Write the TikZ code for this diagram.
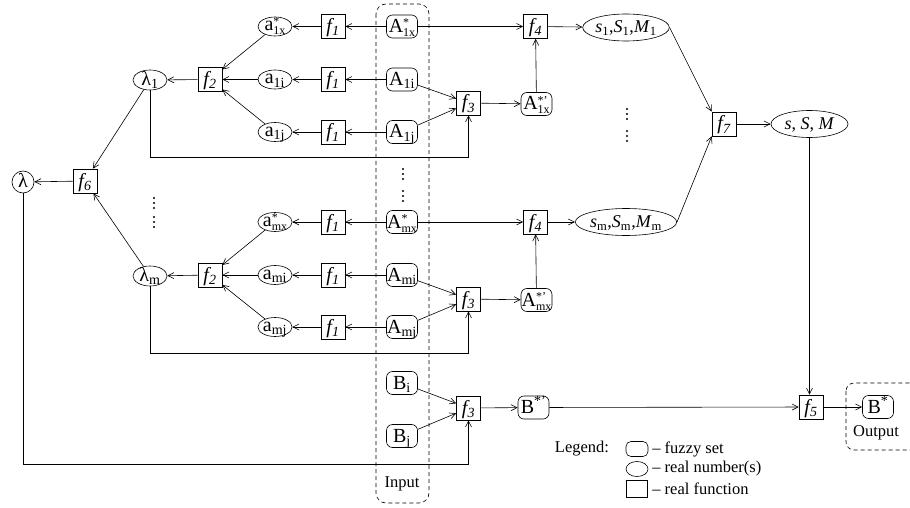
\documentclass[tikz,border=0pt]{standalone}
\usepackage{fontspec}
\setmainfont{Liberation Serif}
\usetikzlibrary{arrows.meta,shapes.geometric}
\newcommand\SupSub[2]{\rlap{\raisebox{5.5pt}{\fontsize{12}{12}\selectfont #1}}\raisebox{-4pt}{\fontsize{12}{12}\selectfont #2}}
\newcommand\fn[1]{\textit{f\kern0.3pt\textsubscript{#1}}}
\begin{document}
\begin{tikzpicture}[x=1pt,y=-1pt,
  every node/.style={font=\fontsize{16.5}{18}\selectfont, inner sep=0},
  bigtxt/.style={font=\fontsize{20}{22}\selectfont, text height=12pt, text depth=0pt},
  fbox/.style={draw, bigtxt, minimum size=24},
  fuz/.style={draw, bigtxt, rounded corners=6, minimum width=31, minimum height=23},
  num/.style={draw, bigtxt, text height=9pt, ellipse, minimum width=34, minimum height=19},
  lnum/.style={draw, bigtxt, text height=11pt, ellipse, minimum width=34, minimum height=20},
  big/.style={draw, ellipse, font=\fontsize{18}{20}\selectfont, text height=11pt, text depth=0pt, minimum width=77, minimum height=27},
  arr/.style={-{Straight Barb[length=6pt,width=6pt]}},
  line width=0.6pt]
\useasboundingbox (0,0) rectangle (910,508);
% input / output frames
\draw[dash pattern=on 4pt off 3pt, rounded corners=10] (376,4) rectangle (429,503);
\node (inp) at (402,484) {Input};
\draw[dash pattern=on 4pt off 3pt, rounded corners=8] (846,383) rectangle (918,450);
\node (outp) at (876,433) {Output};
% ---- block 1
\node[num] (a1x) at (275,26.5) {a\SupSub{*}{1x}};
\node[fbox] (f1x) at (333,26.5) {\fn{1}};
\node[fuz] (A1x) at (402,26.5) {A\SupSub{*}{1x}};
\node[fbox] (f4a) at (535.5,26.5) {\fn{4}};
\node[big] (s1) at (626,27.5) {\textit{s}\textsubscript{1},\textit{S}\textsubscript{1},\textit{M}\textsubscript{1}};
\node[lnum] (l1) at (150,80) {λ\textsubscript{1}};
\node[fbox] (f2a) at (210,79.5) {\fn{2}};
\node[num] (a1i) at (275,79.5) {a\textsubscript{1i}};
\node[fbox] (f1i) at (333,79.5) {\fn{1}};
\node[fuz] (A1i) at (402,79.5) {A\textsubscript{1i}};
\node[fbox] (f3a) at (468.5,103) {\fn{3}};
\node[fuz] (A1xp) at (536.5,104) {A\SupSub{*’}{1x}};
\node[num] (a1j) at (275,132) {a\textsubscript{1j}};
\node[fbox] (f1j) at (333,132) {\fn{1}};
\node[fuz] (A1j) at (402,132) {A\textsubscript{1j}};
% ---- block m
\node[num] (amx) at (275,222) {a\SupSub{*}{mx}};
\node[fbox] (f1mx) at (333,222) {\fn{1}};
\node[fuz] (Amx) at (402,222) {A\SupSub{*}{mx}};
\node[fbox] (f4b) at (535.5,222) {\fn{4}};
\node[big] (sm) at (626,222) {\textit{s}\textsubscript{m},\textit{S}\textsubscript{m},\textit{M}\textsubscript{m}};
\node[lnum] (lm) at (150,276) {λ\textsubscript{m}};
\node[fbox] (f2b) at (210,275) {\fn{2}};
\node[num] (ami) at (275,275) {a\textsubscript{mi}};
\node[fbox] (f1mi) at (333,275) {\fn{1}};
\node[fuz] (Ami) at (402,275) {A\textsubscript{mi}};
\node[fbox] (f3b) at (468.5,299) {\fn{3}};
\node[fuz] (Amxp) at (536.5,300) {A\SupSub{*’}{mx}};
\node[num] (amj) at (275,327) {a\textsubscript{mj}};
\node[fbox] (f1mj) at (333,327) {\fn{1}};
\node[fuz] (Amj) at (402,327) {A\textsubscript{mj}};
% ---- aggregation
\node[fbox] (f6) at (85,181) {\fn{6}};
\node[draw, bigtxt, text height=11pt, ellipse, minimum width=22, minimum height=22] (lam) at (23,182) {λ};
\node[fbox] (f7) at (724,124) {\fn{7}};
\node[big] (sSM) at (809.5,124) {\textit{s}, \textit{S}, \textit{M}};
% ---- B part
\node[fuz] (Bi) at (402,383) {B\textsubscript{i}};
\node[fuz] (Bj) at (402,436) {B\textsubscript{j}};
\node[fbox] (f3c) at (468.5,408) {\fn{3}};
\node[fuz] (Bsp) at (533.5,407.5) {B\textsuperscript{*’}};
\node[fbox] (f5) at (811,407) {\fn{5}};
\node[fuz] (Bs) at (878,407) {B\textsuperscript{*}};
% ---- dots
\foreach \x/\y in {154/198,154/203,154/208,154/217,154/222,154/227,
                   403/169,403/174,403/179,403/191,403/196,403/201,
                   627/109,627/114,627/119,627/131,627/136,627/141}
  \fill (\x,\y) circle (1.1);
% ---- connectors block 1
\draw[arr] (A1x) -- (f1x);
\draw[arr] (f1x) -- (a1x);
\draw[arr] (A1x) -- (f4a);
\draw[arr] (f4a) -- (s1);
\draw[arr] (A1xp) -- (f4a);
\draw[arr] (A1i) -- (f1i);
\draw[arr] (f1i) -- (a1i);
\draw[arr] (A1j) -- (f1j);
\draw[arr] (f1j) -- (a1j);
\draw[arr] (a1x) -- (f2a);
\draw[arr] (a1i) -- (f2a);
\draw[arr] (a1j) -- (f2a);
\draw[arr] (f2a) -- (l1);
\draw[arr] (A1i) -- (f3a);
\draw[arr] (A1j) -- (f3a);
\draw[arr] (f3a) -- (A1xp);
\draw[arr] (l1.south) -- (l1.south |- 0,157) -| (f3a.south);
% ---- connectors block m
\draw[arr] (Amx) -- (f1mx);
\draw[arr] (f1mx) -- (amx);
\draw[arr] (Amx) -- (f4b);
\draw[arr] (f4b) -- (sm);
\draw[arr] (Amxp) -- (f4b);
\draw[arr] (Ami) -- (f1mi);
\draw[arr] (f1mi) -- (ami);
\draw[arr] (Amj) -- (f1mj);
\draw[arr] (f1mj) -- (amj);
\draw[arr] (amx) -- (f2b);
\draw[arr] (ami) -- (f2b);
\draw[arr] (amj) -- (f2b);
\draw[arr] (f2b) -- (lm);
\draw[arr] (Ami) -- (f3b);
\draw[arr] (Amj) -- (f3b);
\draw[arr] (f3b) -- (Amxp);
\draw[arr] (lm.south) -- (lm.south |- 0,353) -| (f3b.south);
% ---- aggregation connectors
\draw[arr] (l1) -- (f6);
\draw[arr] (lm) -- (f6);
\draw[arr] (f6) -- (lam);
\draw[arr] (s1.east) -- (f7.north west);
\draw[arr] (sm.east) -- (f7.south west);
\draw[arr] (f7) -- (sSM);
\draw[arr] (sSM.south) -- (sSM.south |- f5.north);
% ---- B connectors
\draw[arr] (Bi) -- (f3c);
\draw[arr] (Bj) -- (f3c);
\draw[arr] (lam.south) -- (lam.south |- 0,464) -| (f3c.south);
\draw[arr] (f3c) -- (Bsp);
\draw[arr] (Bsp) -- (f5);
\draw[arr] (f5) -- (Bs);
% ---- legend
\node (leg) at (582,449) {Legend:};
\node[draw, rounded corners=5, minimum width=22, minimum height=15] (lg1) at (637,449) {};
\node[draw, ellipse, minimum width=22, minimum height=15] (lg2) at (637,469) {};
\node[draw, minimum width=21, minimum height=17] (lg3) at (637,489) {};
\node[anchor=west] (lt1) at (652,449) {– fuzzy set};
\node[anchor=west] (lt2) at (652,469) {– real number(s)};
\node[anchor=west] (lt3) at (652,489) {– real function};
\end{tikzpicture}
\end{document}
